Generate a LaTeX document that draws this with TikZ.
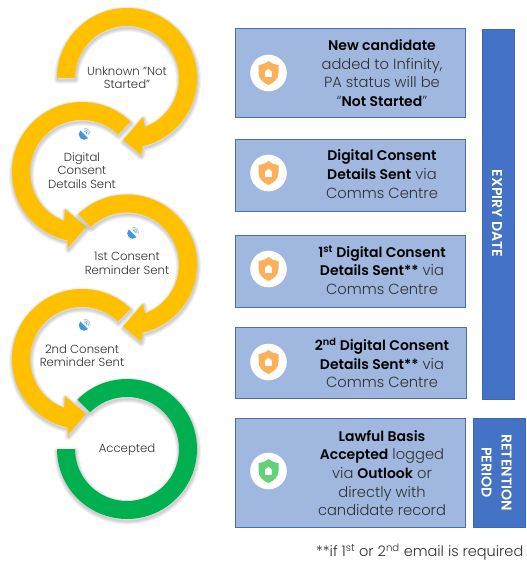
\documentclass[tikz,border=0pt]{standalone}
\usepackage{fontspec}
\setmainfont{Poppins}[UprightFont=*-Light,BoldFont=*-SemiBold]
\definecolor{amber}{HTML}{FFC000}
\definecolor{leaf}{HTML}{00B050}
\definecolor{panel}{HTML}{A0B8E0}
\definecolor{panelline}{HTML}{4A6FA8}
\definecolor{bar}{HTML}{4472C4}
\definecolor{ink}{HTML}{303030}
\definecolor{shieldo}{HTML}{FBB15A}
\definecolor{shieldg}{HTML}{62D276}
\definecolor{dish}{HTML}{3F97DC}
\newcommand\hl[1]{\textcolor{black}{\fontsize{14}{18.6}\selectfont\textbf{#1}}}
\tikzset{
  panelbox/.style={draw=panelline,line width=1pt,fill=panel,minimum width=230pt,anchor=north west,inner sep=0pt},
  panelitem/.style={font=\fontsize{14.7}{18.6}\selectfont,text=ink,align=center,anchor=center,inner sep=0pt},
  barbox/.style={draw=bar!90!black,line width=.6pt,fill=bar,anchor=north west,inner sep=0pt},
  bartext/.style={font=\fontsize{14.2}{20}\selectfont\bfseries,text=white,align=center,rotate=-90,inner sep=0pt},
  steplabel/.style={font=\fontsize{11.7}{13.4}\selectfont,text=ink,align=center,inner sep=0pt},
}
\newcommand\softshape[2]{%
  \foreach \wd in {7,5,3,1}{\draw[black,opacity=.05,line width=\wd pt,line join=round] [shift={(0.5,-2)}] #1;}
  \fill[#2] #1;}
\newcommand\cwring{(180:70) arc[start angle=180,end angle=-77,radius=70] -- (14,-77) -- (-4,-62) -- (16,-39) -- (-70:52) arc[start angle=-70,end angle=180,radius=52] -- cycle}
\newcommand\cwringb{(134:70) arc[start angle=134,end angle=-77,radius=70] -- (14,-77) -- (-4,-62) -- (16,-39) -- (-70:52) arc[start angle=-70,end angle=134,radius=52] -- cycle}
\newcommand\ccwring{(46:70) arc[start angle=46,end angle=258,radius=70] -- (-14,-76) -- (4,-55) -- (-17,-37) -- (250:52) arc[start angle=250,end angle=46,radius=52] -- cycle}
\newcommand\lastring{(135:70) arc[start angle=135,end angle=-180,radius=70] -- (180:52) arc[start angle=-180,end angle=135,radius=52] -- cycle}
\newcommand\shieldicon[3]{%
  \begin{scope}[shift={(#1,#2)}]
    \fill[white] (0,0) circle[radius=18.3];
    \fill[#3] (0,12) .. controls (-3,9.5) and (-6,8.5) .. (-10,8) -- (-10,0) .. controls (-10,-6) and (-5,-10) .. (0,-12) .. controls (5,-10) and (10,-6) .. (10,0) -- (10,8) .. controls (6,8.5) and (3,9.5) .. (0,12) -- cycle;
    \fill[white] (-3.4,-3.5) rectangle (3.4,1.2);
    \fill[white] (-3.8,1) -- (0,4.2) -- (3.8,1) -- cycle;
  \end{scope}}
\newcommand\dishicon[2]{%
  \begin{scope}[shift={(#1,#2)},rotate=-45]
    \fill[dish] (-5.5,1) arc[start angle=180,end angle=360,radius=5.5] -- cycle;
    \draw[dish,line width=.7pt] (-1.8,3) arc[start angle=150,end angle=30,radius=2];
    \draw[dish!70,line width=.7pt] (-3.2,4) arc[start angle=145,end angle=35,radius=3.9];
    \draw[dish!50,line width=.7pt] (-4.4,5.2) arc[start angle=140,end angle=40,radius=5.7];
  \end{scope}}
\begin{document}
\begin{tikzpicture}[x=1pt,y=1pt]
\useasboundingbox (0,-566) rectangle (527,0);
\fill[white] (0,-566) rectangle (527,0);
% rings
\begin{scope}[shift={(127,-78)}]\softshape{\cwring}{amber}\end{scope}
\begin{scope}[shift={(82,-172)}]\softshape{\ccwring}{amber}\end{scope}
\begin{scope}[shift={(127,-264.5)}]\softshape{\cwringb}{amber}\end{scope}
\begin{scope}[shift={(82,-359)}]\softshape{\ccwring}{amber}\end{scope}
\begin{scope}[shift={(127,-449)}]\softshape{\lastring}{leaf}\end{scope}
% step labels
\node[steplabel] (s1) at (127,-77.5) {Unknown "Not\\Started"};
\node[steplabel] (s2) at (82,-170.5) {Digital\\Consent\\Details Sent};
\node[steplabel] (s3) at (127,-263.5) {1st Consent\\Reminder Sent};
\node[steplabel] (s4) at (82,-356) {2nd Consent\\Reminder Sent};
\node[steplabel] (s5) at (127,-449.5) {Accepted};
\dishicon{83.5}{-135}
\dishicon{132}{-234}
\dishicon{83.5}{-326}
% panels
\node[panelbox,minimum height=89pt] (p1) at (234.5,-28) {};
\node[panelbox,minimum height=72pt] (p2) at (234.5,-138.5) {};
\node[panelbox,minimum height=72pt] (p3) at (234.5,-234.5) {};
\node[panelbox,minimum width=231pt,minimum height=71pt] (p4) at (234.5,-327) {};
\node[panelbox,minimum height=109pt] (p5) at (234.5,-418) {};
\shieldicon{268.5}{-73}{shieldo}
\shieldicon{268.5}{-173}{shieldo}
\shieldicon{268.5}{-269}{shieldo}
\shieldicon{268.5}{-362}{shieldo}
\shieldicon{268.5}{-471}{shieldg}
\node[panelitem] (t1) at (382,-73) {\hl{New candidate}\\added to Infinity,\\PA status will be\\“\hl{Not Started}”};
\node[panelitem] (t2) at (382,-174) {\hl{Digital Consent}\\\hl{Details Sent} via\\Comms Centre};
\node[panelitem] (t3) at (382,-270) {\hl{1\textsuperscript{st} Digital Consent}\\\hl{Details Sent**} via\\Comms Centre};
\node[panelitem] (t4) at (382,-363) {\hl{2\textsuperscript{nd} Digital Consent}\\\hl{Details Sent**} via\\Comms Centre};
\node[panelitem] (t5) at (382,-473) {\hl{Lawful Basis}\\\hl{Accepted} logged\\via \hl{Outlook} or\\directly with\\candidate record};
% bars
\node[barbox,minimum width=32pt,minimum height=370pt] (b1) at (482,-28.5) {};
\node[barbox,minimum width=52pt,minimum height=109pt] (b2) at (473,-418) {};
\node[bartext] (b1t) at (497,-213.5) {EXPIRY DATE};
\node[bartext] (b2t) at (496.5,-472.5) {RETENTION\\PERIOD};
\node[font=\fontsize{14.5}{16}\selectfont,text=ink,anchor=east,inner sep=0pt] (note) at (523.5,-552) {**if 1\textsuperscript{st} or 2\textsuperscript{nd} email is required};
\end{tikzpicture}
\end{document}
